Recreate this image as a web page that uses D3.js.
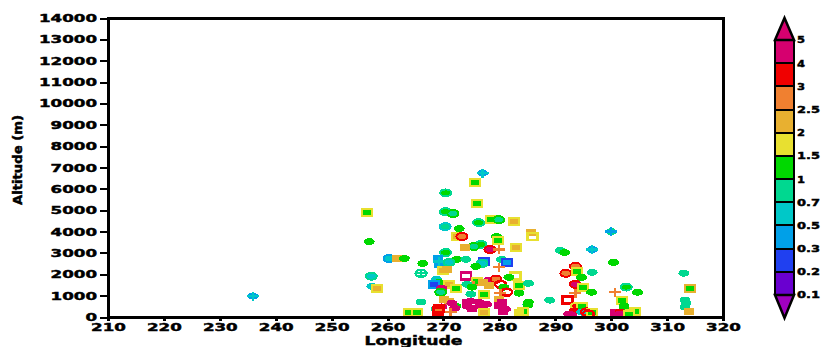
<!DOCTYPE html>
<html>
<head>
<meta charset="utf-8">
<script src="https://cdn.jsdelivr.net/npm/d3@7"></script>
<style>
  body { margin: 0; background: #fff; }
  svg { display: block; }
  text { font-family: "DejaVu Sans", sans-serif; font-weight: bold; fill: #000;
         stroke: #000; stroke-width: 0.45px; paint-order: stroke; }
</style>
</head>
<body>
<svg id="chart" width="822" height="347"></svg>
<script>
// Axis ticks
const lonTicks = d3.range(210, 321, 10);
const altTicks = d3.range(0, 14001, 1000);

// Colour levels (boundaries) and fills: below 0.1, each band, above 5
const levels = [0.1, 0.2, 0.3, 0.5, 0.7, 1, 1.5, 2, 2.5, 3, 4, 5];
const levelLabels = ["0.1", "0.2", "0.3", "0.5", "0.7", "1", "1.5", "2", "2.5", "3", "4", "5"];
const palette = ["#a000c0", "#6a00d0", "#2040f0", "#00a0e8", "#00c8c8", "#00d890",
                 "#00d800", "#e8e030", "#e8b030", "#f08030", "#f00000", "#d6006f", "#d6006f"];

// Observations: longitude, altitude (m), fill value, outline value, marker (c ellipse, s box, p plus)
const lon = [
  235.9,235.9,277.0,277.0,275.6,270.4,276.0,256.4,270.3,271.7,
  278.5,279.9,282.7,276.3,270.3,272.8,272.4,273.3,256.7,279.5,
  279.7,285.6,285.9,276.7,275.4,273.8,278.3,279.9,282.9,270.4,
  290.9,291.7,296.6,296.6,300.0,300.0,260.3,261.7,263.0,266.3,
  269.0,269.2,269.2,272.4,274.0,271.0,269.9,266.0,266.0,257.1,
  268.8,269.2,268.3,271.0,257.2,258.1,269.7,272.2,269.5,277.2,
  276.9,275.8,280.4,281.3,279.9,274.0,270.6,282.9,276.0,278.1,
  279.4,281.7,283.5,285.2,274.2,275.4,278.1,277.0,280.2,280.8,
  275.1,281.3,280.2,277.2,283.5,274.9,279.9,270.1,271.0,266.0,
  274.9,276.3,277.7,280.4,285.1,285.2,268.7,272.2,274.2,281.1,
  269.7,271.5,272.0,274.2,275.1,276.7,280.0,280.6,269.2,269.0,
  271.3,263.8,265.3,277.2,285.1,284.3,283.5,289.0,292.2,293.6,
  291.9,293.8,296.6,294.7,313.0,293.6,295.0,302.7,314.1,296.5,
  304.7,300.7,293.6,302.0,313.2,300.4,293.8,294.7,302.3,313.2,
  313.4,302.3,304.3,303.4,293.4,292.4,292.9,294.7,295.6,296.5,
  300.7,301.6,301.6,303.2,313.9,295.9
];
const alt = [
  980,980,6740,6740,6280,5810,5300,4880,4930,4840,
  4560,4560,4470,4420,4230,4140,3770,3770,3530,3770,
  3580,3950,3770,3400,3300,3260,3160,3160,3260,3020,
  3120,3020,3160,3160,4000,4000,2740,2740,2740,2510,
  2740,2460,2600,2700,2700,2560,2190,2050,2050,1910,
  1770,1630,1530,1530,1440,1350,1350,1350,1160,2600,
  2510,2370,2700,2560,2330,1910,2230,1910,1670,1720,
  1770,1860,1490,1580,1530,1490,1490,1630,1530,1400,
  1400,1160,1120,1070,1120,1070,840,840,740,700,
  740,700,600,700,600,700,370,510,510,370,
  470,650,420,700,420,510,560,280,420,280,
  230,230,230,230,560,280,230,790,790,2370,
  2050,2140,2090,1860,2050,1530,1400,1400,1350,1160,
  1160,1160,1120,790,790,2560,510,510,510,470,
  650,420,280,230,280,140,90,230,230,230,
  230,230,140,140,280,140
];
const fillVal = [
  0.4,0.6,0.4,0.6,1.2,1.2,1.2,1.2,1.2,0.85,
  1.2,0.85,2.2,1.2,0.85,1.2,2.2,2.7,1.2,1.2,
  1.2,2.2,null,1.2,0.85,2.2,4.5,2.7,2.2,1.2,
  0.85,1.2,0.4,0.6,0.85,0.4,0.6,2.2,1.2,1.2,
  0.4,0.4,0.6,1.2,0.85,0.6,2.2,null,0.85,0.6,
  0.6,1.2,0.25,2.2,0.6,2.2,4.5,1.2,0.85,0.4,
  0.6,1.2,0.85,0.4,2.7,null,2.2,null,1.2,4.5,
  2.7,1.2,1.2,0.85,0.85,2.7,2.2,2.2,null,1.2,
  1.2,null,2.7,1.2,1.2,0.85,2.2,2.2,2.2,0.85,
  4.5,4.5,4.5,4.5,0.85,1.2,0.85,1.2,4.5,4.5,
  4.5,4.5,4.5,4.5,4.5,4.5,4.5,4.5,2.7,null,
  2.7,1.2,1.2,2.2,1.2,1.2,1.7,0.85,null,2.7,
  2.7,1.2,0.85,1.2,0.85,4.5,1.2,1.2,1.2,1.2,
  1.2,2.7,2.7,1.2,0.85,1.2,3.5,1.2,1.2,0.85,
  0.85,1.2,1.2,1.7,3.5,4.5,4.5,0.6,null,1.2,
  4.5,3.5,4.5,1.2,2.2,null
];
const edgeVal = [
  null,null,null,null,1.7,0.85,1.7,1.7,0.85,1.2,
  1.7,1.2,1.7,0.85,0.6,null,1.7,3.5,null,null,
  1.7,null,1.7,0.85,1.2,null,3.5,null,1.7,0.85,
  null,null,null,null,null,null,0.4,null,null,null,
  null,null,null,null,null,0.85,1.7,0.85,null,0.85,
  null,null,0.4,1.7,null,1.7,null,1.7,1.2,0.25,
  0.85,null,null,0.25,null,4.5,null,1.7,1.7,null,
  3.5,null,1.7,null,null,null,null,null,3.5,null,
  null,3.5,null,1.7,null,null,null,null,null,null,
  null,null,null,null,null,null,null,null,null,null,
  null,null,null,null,null,null,null,null,3.5,3.5,
  null,1.7,1.7,1.7,null,1.7,null,null,3.5,3.5,
  3.5,1.7,null,null,null,3.5,1.7,0.85,2.2,null,
  null,null,null,1.7,null,null,1.7,1.7,null,null,
  null,null,1.7,null,null,null,null,null,3.5,1.7,
  null,null,null,1.7,null,3.5
];
const marker = [
  "c","p","c","p","s","c","s","s","c","c",
  "s","c","s","c","c","c","s","c","c","c",
  "s","s","s","c","c","s","c","p","s","c",
  "c","c","c","p","c","p","c","s","c","c",
  "s","s","p","c","c","c","s","c","p","c",
  "c","c","s","s","c","s","c","s","c","s",
  "c","c","c","s","p","s","s","s","s","c",
  "c","c","s","c","c","p","s","s","c","c",
  "c","c","p","s","c","c","s","s","s","c",
  "c","c","c","s","c","c","c","c","c","c",
  "c","c","c","s","s","c","s","s","s","s",
  "p","s","s","s","c","s","s","c","s","c",
  "c","s","c","c","c","c","s","c","s","c",
  "c","p","p","s","c","c","c","s","c","c",
  "c","c","s","s","c","c","c","c","c","s",
  "s","c","c","s","s","c"
];

const svg = d3.select("#chart");
const plot = { left: 108, right: 723, top: 18, bottom: 317 };

const x = d3.scaleLinear().domain([210, 320]).range([plot.left, plot.right]);
const y = d3.scaleLinear().domain([0, 14000]).range([plot.bottom, plot.top]);
const color = d3.scaleThreshold().domain(levels).range(palette);

// Wide, bold label style: stretch each string to a fixed advance per character
function stretch(sel, digitW, dotW) {
  sel.each(function () {
    const t = d3.select(this);
    const s = t.text();
    let w = 0;
    for (const ch of s) w += (ch === "." ? dotW : digitW);
    t.attr("textLength", w).attr("lengthAdjust", "spacingAndGlyphs");
  });
}

svg.append("defs").append("clipPath").attr("id", "plotClip")
  .append("rect")
  .attr("x", plot.left).attr("y", plot.top)
  .attr("width", plot.right - plot.left).attr("height", plot.bottom - plot.top);

// Markers
const pts = lon.map((d, i) => ({ lon: d, alt: alt[i], fill: fillVal[i], edge: edgeVal[i], shape: marker[i] }));
const marks = svg.append("g").attr("clip-path", "url(#plotClip)")
  .selectAll("g").data(pts).join("g")
  .attr("transform", d => `translate(${x(d.lon)},${y(d.alt)})`)
  .attr("shape-rendering", "crispEdges");

marks.each(function (d) {
  const g = d3.select(this);
  const fill = d.fill == null ? "none" : color(d.fill);
  const stroke = d.edge == null ? "none" : color(d.edge);
  const sw = d.fill == null ? 2.5 : 2;
  if (d.shape === "c") {
    g.append("ellipse").attr("rx", 5.5).attr("ry", 3.5)
      .attr("fill", fill).attr("stroke", stroke).attr("stroke-width", sw);
  } else if (d.shape === "s") {
    g.append("rect").attr("x", -5).attr("y", -3.5).attr("width", 10).attr("height", 7)
      .attr("fill", fill).attr("stroke", stroke).attr("stroke-width", sw);
  } else {
    g.append("path").attr("d", "M-6,0H6M0,-4.5V4.5")
      .attr("fill", "none").attr("stroke", color(d.fill)).attr("stroke-width", 2.5);
  }
});

// Frame
svg.append("rect")
  .attr("x", plot.left).attr("y", plot.top)
  .attr("width", plot.right - plot.left).attr("height", plot.bottom - plot.top)
  .attr("fill", "none").attr("stroke", "#000").attr("stroke-width", 3)
  .attr("shape-rendering", "crispEdges");

// Y axis
const yAxis = svg.append("g").attr("transform", `translate(${plot.left},0)`)
  .call(d3.axisLeft(y).tickValues(altTicks).tickSize(8).tickPadding(3).tickFormat(d3.format("d")));
yAxis.select(".domain").remove();
yAxis.selectAll(".tick line").attr("stroke", "#000").attr("stroke-width", 2).attr("shape-rendering", "crispEdges");
yAxis.selectAll(".tick text").attr("font-size", 11).attr("font-family", null).attr("fill", "#000")
  .call(stretch, 11.6, 5);

// X axis
const xAxis = svg.append("g").attr("transform", `translate(0,${plot.bottom})`)
  .call(d3.axisBottom(x).tickValues(lonTicks).tickSize(4).tickPadding(2).tickFormat(d3.format("d")));
xAxis.select(".domain").remove();
xAxis.selectAll(".tick line").attr("stroke", "#000").attr("stroke-width", 3).attr("shape-rendering", "crispEdges");
xAxis.selectAll(".tick text").attr("font-size", 11).attr("font-family", null).attr("fill", "#000")
  .call(stretch, 11.6, 5);

// Axis titles
svg.append("text")
  .attr("x", (plot.left + plot.right) / 2 - 2).attr("y", 345)
  .attr("text-anchor", "middle").attr("font-size", 13)
  .attr("textLength", 98).attr("lengthAdjust", "spacingAndGlyphs")
  .text("Longitude");

svg.append("text")
  .attr("transform", "translate(22,160) rotate(-90)")
  .attr("text-anchor", "middle").attr("font-size", 12)
  .attr("textLength", 90).attr("lengthAdjust", "spacingAndGlyphs")
  .text("Altitude (m)");

// Colour bar
const cb = { x: 775, w: 19, top: 40, bottom: 295, tipTop: 18, tipBot: 318 };
const nBox = levels.length - 1;
const bandY = d3.scaleLinear().domain([0, nBox]).range([cb.bottom, cb.top]);

const cbg = svg.append("g").attr("shape-rendering", "crispEdges");
cbg.selectAll("rect.band").data(d3.range(nBox)).join("rect")
  .attr("class", "band")
  .attr("x", cb.x).attr("width", cb.w)
  .attr("y", i => bandY(i + 1)).attr("height", i => bandY(i) - bandY(i + 1))
  .attr("fill", i => color(levels[i]))
  .attr("stroke", "#000").attr("stroke-width", 2);

svg.append("path")
  .attr("d", `M${cb.x},${cb.top}L${cb.x + cb.w / 2},${cb.tipTop}L${cb.x + cb.w},${cb.top}Z`)
  .attr("fill", color(levels[levels.length - 1] + 1)).attr("stroke", "#000").attr("stroke-width", 2.5)
  .attr("stroke-linejoin", "miter");
svg.append("path")
  .attr("d", `M${cb.x},${cb.bottom}L${cb.x + cb.w / 2},${cb.tipBot}L${cb.x + cb.w},${cb.bottom}Z`)
  .attr("fill", color(levels[0] / 2)).attr("stroke", "#000").attr("stroke-width", 2.5)
  .attr("stroke-linejoin", "miter");
svg.append("rect")
  .attr("x", cb.x).attr("y", cb.top).attr("width", cb.w).attr("height", cb.bottom - cb.top)
  .attr("fill", "none").attr("stroke", "#000").attr("stroke-width", 2.5)
  .attr("shape-rendering", "crispEdges");

svg.append("g").selectAll("text").data(levelLabels).join("text")
  .attr("x", cb.x + cb.w + 3)
  .attr("y", (d, i) => bandY(i))
  .attr("dy", "0.36em")
  .attr("font-size", 9.5)
  .text(d => d)
  .call(stretch, 8, 7);
</script>
</body>
</html>
